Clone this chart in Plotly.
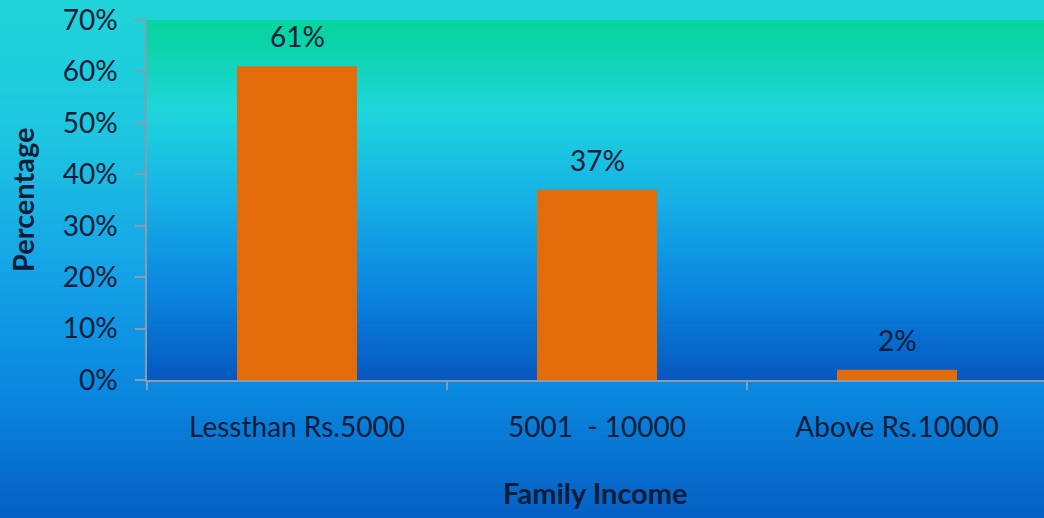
import plotly.graph_objects as go

categories = ["Lessthan Rs.5000", "5001  - 10000", "Above Rs.10000"]
values = [61, 37, 2]
y_ticks = [0, 10, 20, 30, 40, 50, 60, 70]
y_tick_labels = [f"{v}%" for v in y_ticks]
label_texts = [f"{v}%" for v in values]

W, H = 1044, 518
ML, MT, MB, MR = 147, 20, 138, 0
TEXT = "#0a1c38"
AXC = "#8a9bb0"


def hex2rgb(h):
    h = h.lstrip("#")
    return [int(h[i:i + 2], 16) for i in (0, 2, 4)]


def interp(stops, t):
    for (t0, c0), (t1, c1) in zip(stops, stops[1:]):
        if t0 <= t <= t1:
            f = (t - t0) / (t1 - t0) if t1 > t0 else 0
            a, b = hex2rgb(c0), hex2rgb(c1)
            return "rgb({},{},{})".format(*[round(a[i] + (b[i] - a[i]) * f) for i in range(3)])
    return stops[-1][1]


paper_stops = [(0.0, "#1fd5d8"), (0.25, "#1ec7e0"), (0.5, "#16a6e6"),
               (0.75, "#0a88e0"), (1.0, "#0560c4")]
plot_stops = [(0.0, "#06d4a0"), (0.06, "#0ad4a8"), (0.25, "#1ed6dc"),
              (0.5, "#16b0e6"), (0.75, "#0a86e0"), (1.0, "#0558c0")]

shapes = []
N = 80
pw = W - ML - MR
ph = H - MT - MB
x0p, x1p = -ML / pw, 1 + MR / pw
for i in range(N):
    t0, t1 = i / N, (i + 1) / N
    ytop = 1 + MT / ph - t0 * H / ph
    ybot = 1 + MT / ph - t1 * H / ph
    shapes.append(dict(type="rect", xref="paper", yref="paper", x0=x0p, x1=x1p,
                       y0=ybot - 0.002, y1=ytop, line_width=0,
                       fillcolor=interp(paper_stops, (t0 + t1) / 2), layer="below"))
for i in range(N):
    t0, t1 = i / N, (i + 1) / N
    shapes.append(dict(type="rect", xref="paper", yref="paper", x0=0, x1=1,
                       y0=1 - t1 - 0.002, y1=1 - t0, line_width=0,
                       fillcolor=interp(plot_stops, (t0 + t1) / 2), layer="below"))

fig = go.Figure()
fig.add_trace(go.Bar(x=categories, y=values, width=0.4,
                     marker=dict(color="#e36c0a", line_width=0),
                     hoverinfo="skip"))

annotations = []
for c, v, t in zip(categories, values, label_texts):
    annotations.append(dict(x=c, y=v, xref="x", yref="y", text=t, showarrow=False,
                            yanchor="middle", yshift=30,
                            font=dict(family="Lato", size=28, color=TEXT)))
annotations.append(dict(xref="paper", yref="paper", x=0, y=0.5, xshift=-125,
                        text="<b>Percentage</b>", textangle=-90, showarrow=False,
                        xanchor="center", yanchor="middle",
                        font=dict(family="Lato", size=29, color=TEXT)))
annotations.append(dict(xref="paper", yref="paper", x=0.5, y=0, yshift=-112,
                        text="<b>Family Income</b>", showarrow=False,
                        xanchor="center", yanchor="middle",
                        font=dict(family="Lato", size=29, color=TEXT)))

fig.update_layout(
    width=W, height=H,
    margin=dict(l=ML, r=MR, t=MT, b=MB, pad=0),
    paper_bgcolor="#0a88e0",
    plot_bgcolor="rgba(0,0,0,0)",
    shapes=shapes,
    annotations=annotations,
    showlegend=False,
    xaxis=dict(type="category", range=[-0.5, -0.5 + pw / 300], tickson="boundaries",
               showline=True, linecolor=AXC, linewidth=1.5,
               ticks="outside", ticklen=8, tickcolor=AXC, tickwidth=1.5,
               showgrid=False, zeroline=False, ticklabelstandoff=22,
               tickfont=dict(family="Lato", size=28, color=TEXT)),
    yaxis=dict(range=[0, 70], tickvals=y_ticks, ticktext=y_tick_labels,
               showline=True, linecolor=AXC, linewidth=1.5,
               ticks="outside", ticklen=10, tickcolor=AXC, tickwidth=1.5,
               showgrid=False, zeroline=False, ticklabelstandoff=12,
               tickfont=dict(family="Lato", size=28, color=TEXT)),
)

fig.write_html("out.html")
